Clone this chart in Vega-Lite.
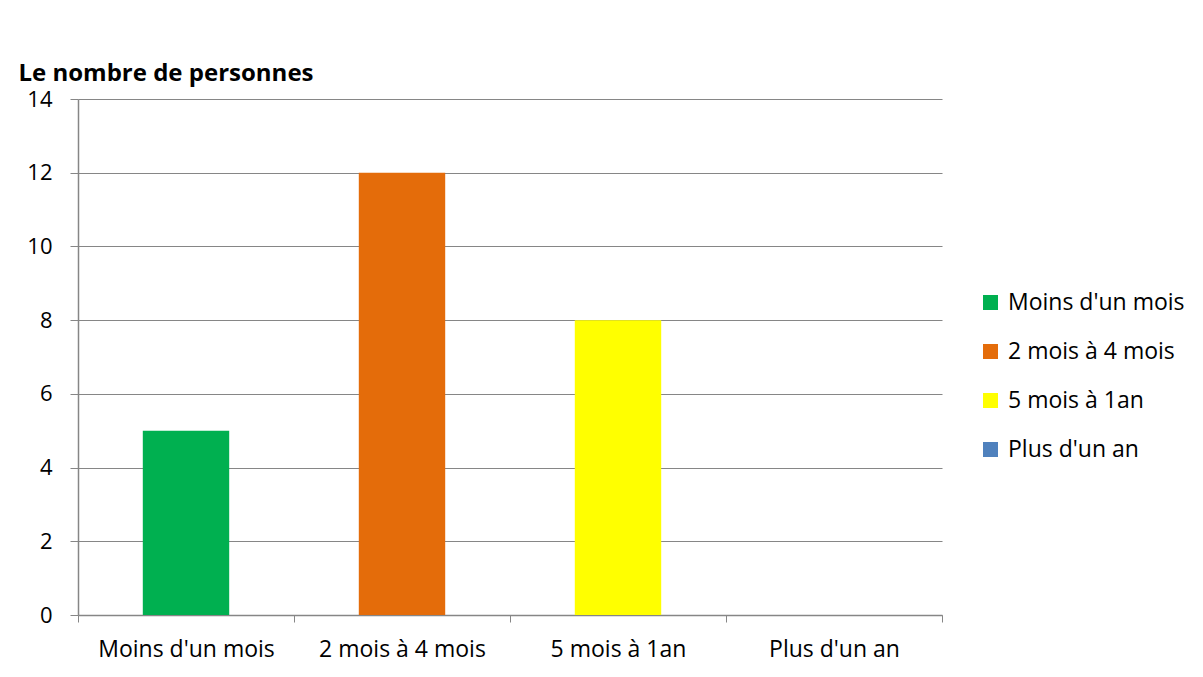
{
  "$schema": "https://vega.github.io/schema/vega-lite/v6.json",
  "autosize": {"type": "none"},
  "padding": {"left": 78, "top": 99, "right": 261, "bottom": 62},
  "width": 864,
  "height": 516,
  "background": "white",
  "config": {
    "font": "Open Sans",
    "view": {"stroke": null}
  },
  "data": {
    "values": [
      {"duree": "Moins d'un mois", "personnes": 5},
      {"duree": "2 mois à 4 mois", "personnes": 12},
      {"duree": "5 mois à 1an", "personnes": 8},
      {"duree": "Plus d'un an", "personnes": 0}
    ]
  },
  "mark": {"type": "bar", "width": {"band": 0.4}},
  "encoding": {
    "x": {
      "field": "duree",
      "type": "nominal",
      "sort": null,
      "scale": {"paddingInner": 0, "paddingOuter": 0},
      "axis": {
        "title": null,
        "labelAngle": 0,
        "labelFontSize": 23,
        "labelColor": "#000000",
        "labelPadding": 16,
        "tickBand": "extent",
        "tickSize": 7,
        "tickColor": "#868686",
        "domainColor": "#868686",
        "domainWidth": 1.5
      }
    },
    "y": {
      "field": "personnes",
      "type": "quantitative",
      "scale": {"domain": [0, 14], "nice": false},
      "axis": {
        "values": [0, 2, 4, 6, 8, 10, 12, 14],
        "title": "Le nombre de personnes",
        "titleAngle": 0,
        "titleX": -60,
        "titleY": -19,
        "titleAlign": "left",
        "titleBaseline": "alphabetic",
        "titleFontSize": 24,
        "titleFontWeight": "bold",
        "titleColor": "#000000",
        "labelFontSize": 22,
        "labelColor": "#000000",
        "labelPadding": 18,
        "tickSize": 8,
        "tickColor": "#868686",
        "domainColor": "#868686",
        "domainWidth": 1.5,
        "grid": true,
        "gridColor": "#868686",
        "gridWidth": 1.2
      }
    },
    "color": {
      "field": "duree",
      "type": "nominal",
      "sort": null,
      "scale": {
        "domain": ["Moins d'un mois", "2 mois à 4 mois", "5 mois à 1an", "Plus d'un an"],
        "range": ["#00B050", "#E46C0A", "#FFFF00", "#4F81BD"]
      },
      "legend": {
        "title": null,
        "orient": "none",
        "legendX": 901,
        "legendY": 192,
        "padding": 0,
        "symbolType": "square",
        "symbolSize": 225,
        "symbolStrokeWidth": 0,
        "labelFontSize": 23,
        "labelColor": "#000000",
        "labelOffset": 6,
        "rowPadding": 25,
        "labelLimit": 300
      }
    }
  }
}
